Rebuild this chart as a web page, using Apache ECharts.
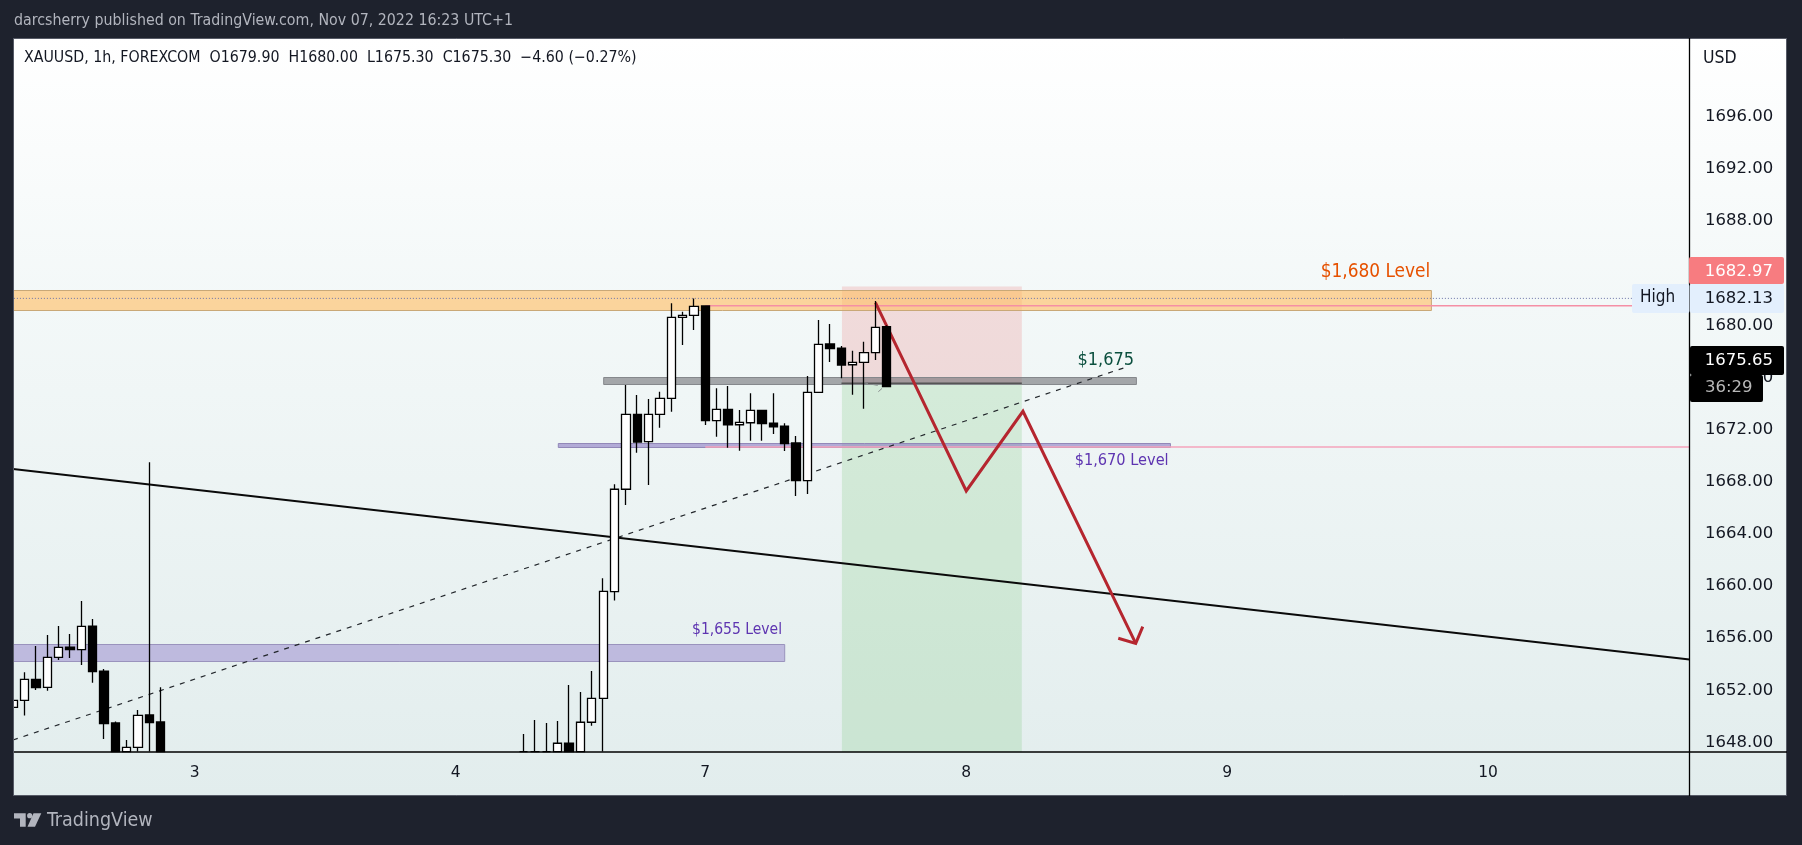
<!DOCTYPE html>
<html><head><meta charset="utf-8">
<style>html,body{margin:0;padding:0;background:#1e222d}#c{width:1802px;height:845px}</style>
<script src="https://cdn.jsdelivr.net/npm/echarts@6/dist/echarts.min.js"></script>
</head><body><div id="c"></div>
<script>
// ---------- chart values ----------
const dayTicks = [15, 38, 60, 83, 106, 129];
const dayLabels = ['3', '4', '7', '8', '9', '10'];
const priceTicks = [1648, 1652, 1656, 1660, 1664, 1668, 1672, 1676, 1680, 1684, 1688, 1692, 1696];
// bar index, open, close, low, high (prices that run below the pane rest on its floor, 1647.3)
const candles = [
 [-1,1650.70,1651.23,1650.50,1651.80],[0,1651.23,1652.84,1650.06,1653.38],[1,1652.84,1652.20,1652.03,1655.40],
 [2,1652.23,1654.53,1651.97,1656.24],[3,1654.53,1655.30,1654.33,1656.93],[4,1655.32,1655.12,1654.48,1656.32],
 [5,1655.12,1656.91,1653.94,1658.85],[6,1656.93,1653.43,1652.59,1657.47],[7,1653.48,1649.44,1648.27,1653.64],
 [8,1649.50,1647.30,1647.30,1649.60],[9,1647.30,1647.63,1647.30,1648.19],[10,1647.63,1650.08,1647.30,1650.49],
 [11,1650.11,1649.52,1647.30,1669.50],[12,1649.57,1647.30,1647.30,1652.23],
 [44,1647.30,1647.30,1647.30,1648.65],[45,1647.30,1647.30,1647.30,1649.73],[46,1647.30,1647.30,1647.30,1649.50],
 [47,1647.30,1647.94,1647.30,1649.65],[48,1647.94,1647.30,1647.30,1652.41],[49,1647.30,1649.55,1647.30,1651.87],
 [50,1649.55,1651.39,1649.29,1653.48],[51,1651.39,1659.59,1647.30,1660.60],[52,1659.57,1667.42,1658.88,1667.80],
 [53,1667.42,1673.17,1666.21,1675.42],[54,1673.17,1671.04,1670.23,1674.65],[55,1671.07,1673.17,1667.75,1674.34],
 [56,1673.17,1674.39,1672.14,1674.90],[57,1674.39,1680.60,1673.37,1681.68],[58,1680.60,1680.76,1678.48,1681.04],
 [59,1680.76,1681.45,1679.63,1682.06],[60,1681.48,1672.68,1672.35,1681.50],[61,1672.68,1673.55,1671.45,1675.16],
 [62,1673.55,1672.37,1670.61,1675.34],[63,1672.37,1672.55,1670.38,1673.50],[64,1672.52,1673.47,1671.15,1674.78],
 [65,1673.47,1672.45,1671.15,1673.50],[66,1672.50,1672.20,1671.66,1674.78],[67,1672.27,1670.92,1670.35,1672.48],
 [68,1670.97,1668.08,1666.90,1671.50],[69,1668.08,1674.85,1667.06,1676.10],[70,1674.85,1678.53,1674.85,1680.40],
 [71,1678.56,1678.20,1677.18,1680.09],[72,1678.25,1676.95,1675.93,1678.41],[73,1676.97,1677.15,1674.67,1678.05],
 [74,1677.15,1677.90,1673.60,1678.74],[75,1677.90,1679.84,1677.33,1681.86],[76,1679.90,1675.30,1675.30,1680.00]
];
// drawings, in chart coordinates: [bar from, bar to, price low, price high]
const zoneOrange = [[-2,124,1681.13,1682.70]];
const zoneGrey = [[51,98,1675.50,1676.00]];
const zonePurpleThin = [[47,101,1670.66,1670.97]];
const zonePurple = [[-2,67,1654.23,1655.55]];
const zoneRisk = [[72,87.9,1675.55,1683.00]];
const zoneReward = [[72,87.9,1640,1675.55]];
// lines: [bar, price]
const trendLine = [[-1.02,1668.97],[146.75,1654.36]];
const dashedLine = [[-1.02,1648.19],[96.93,1676.74]];
const dashedBit1 = [[73.9,1675.6],[75.4,1675.35]];
const dashedBit2 = [[75.25,1674.9],[75.7,1675.25]];
const highDots = [[-2,1682.06],[141.7,1682.06]];
const highLine = [[60,1681.50],[141.7,1681.50]];
const lowLine = [[60,1670.66],[146.75,1670.66]];
const stopEdge = [[72,1675.55],[87.9,1675.55]];
const arrowPath = [[75,1681.73],[83,1667.29],[88,1673.40],[97.94,1655.60]];
const arrowHead = [[96.4,1655.99],[97.94,1655.60],[98.56,1656.88]];
const levelNotes = [[119.07,1684.08,'$1,680 Level'],[62.8,1656.63,'$1,655 Level'],[96.7,1669.59,'$1,670 Level'],[95.3,1677.33,'$1,675']];
const noteColors = ['#e65100','#5e35b1','#5e35b1','#0b4f3e'];
const noteSizes = [18.9,15.5,16.2,18];
const titleText = 'darcsherry published on TradingView.com, Nov 07, 2022 16:23 UTC+1';
const legendText = 'XAUUSD, 1h, FOREXCOM  O1679.90  H1680.00  L1675.30  C1675.30  −4.60 (−0.27%)';

const FONT = '"DejaVu Sans Condensed","DejaVu Sans",sans-serif';
const AXFONT = '"DejaVu Sans",sans-serif';

function zoneSeries(rows, fill, stroke, z){
  return {type:'custom', data:rows, z, clip:true, silent:true, encode:{x:[0,1],y:[2,3]},
    renderItem(p,api){
      const a=api.coord([api.value(0),api.value(3)]), b=api.coord([api.value(1),api.value(2)]);
      const s=p.coordSys, x0=Math.max(a[0],s.x), x1=Math.min(b[0],s.x+s.width), y0=Math.max(a[1],s.y), y1=Math.min(b[1],s.y+s.height);
      return {type:'rect', shape:{x:x0+.5,y:Math.round(y0)+.5,width:x1-x0-.5,height:Math.round(y1-y0)},
        style:{fill,stroke:stroke||null,lineWidth:stroke?1:0}};
    }};
}
function lineSeries(pts, color, width, z, dash){
  return {type:'line', data:pts, z, showSymbol:false, silent:true, clip:true, animation:false,
    lineStyle:{color,width,type:dash||'solid',join:'miter'}, itemStyle:{color}};
}
const notesSeries = {type:'custom', data:levelNotes, z:8, clip:false, silent:true, encode:{x:0,y:1},
  renderItem(p,api){
    const c=api.coord([api.value(0),api.value(1)]);
    return {type:'text', style:{x:c[0],y:c[1],text:levelNotes[p.dataIndex][2],fill:noteColors[p.dataIndex],
      align:'center',verticalAlign:'middle',font:noteSizes[p.dataIndex]+'px '+FONT}};
  }};

const series = [
  zoneSeries(zoneRisk,'rgba(235,130,130,0.25)',null,2),
  zoneSeries(zoneReward,'rgba(120,200,120,0.23)',null,2),
  zoneSeries(zoneOrange,'rgba(255,190,100,0.62)','#c9a877',3),
  zoneSeries(zonePurple,'rgba(140,120,200,0.45)','#9a93bd',3),
  zoneSeries(zoneGrey,'rgba(100,100,105,0.55)','#85888c',3),
  zoneSeries(zonePurpleThin,'rgba(130,110,190,0.55)','#9288b8',3),
  lineSeries(lowLine,'#f4a3bb',1.5,4),
  lineSeries(highLine,'#f58fa5',1.5,4),
  lineSeries(highDots,'#6b74a8',1,4,[1,2]),
  lineSeries(stopEdge,'#555555',1.5,4),
  lineSeries(dashedLine,'#22262b',1.2,5,[5,6]),
  lineSeries(dashedBit1,'#8a9090',1,5,[5,5]),
  lineSeries(dashedBit2,'#8a9090',1,5,[5,5]),
  lineSeries(trendLine,'#0a0a0a',2,5),
  lineSeries(arrowPath,'#b5262f',3,6),
  lineSeries(arrowHead,'#b5262f',3,6),
  notesSeries,
  {type:'candlestick', z:10, barWidth:8.8, silent:true,
   data:candles, encode:{x:0,y:[1,2,3,4]},
   itemStyle:{color:'#ffffff',color0:'#000000',borderColor:'#000000',borderColor0:'#000000',borderWidth:1.3}}
];

const tx=(x,y,text,fill,font,align)=>({type:'text',z:120,silent:true,style:{x,y,text,fill,font,align:align||'left',verticalAlign:'middle'}});
const rc=(x,y,w,h,fill,r)=>({type:'rect',z:110,silent:true,shape:{x,y,width:w,height:h,r:r||0},style:{fill}});
const ln=(x1,y1,x2,y2)=>({type:'line',z:15,silent:true,shape:{x1,y1,x2,y2},style:{stroke:'#000',lineWidth:1.3}});

const graphics = [
  {type:'rect',z:-10,silent:true,shape:{x:13.5,y:38.5,width:1773,height:757},
   style:{stroke:'#565a66',lineWidth:1,fill:{type:'linear',x:0,y:0,x2:0,y2:1,colorStops:[{offset:0,color:'#ffffff'},{offset:.35,color:'#f3f8f8'},{offset:1,color:'#e2eded'}]}}},
  // left margin of the pane, covering what overhangs the plot
  {type:'rect',z:16,silent:true,shape:{x:0,y:38,width:13,height:758},style:{fill:'#1e222d'}},
  {type:'line',z:16,silent:true,shape:{x1:13.5,y1:38,x2:13.5,y2:796},style:{stroke:'#565a66',lineWidth:1}},
  ln(1689.5,38,1689.5,796), ln(13,752,1787,752),
  tx(14,21,titleText,'#b2b5be','15.8px '+FONT),
  tx(24,58,legendText,'#131722','15.8px '+FONT),
  tx(1703,58,'USD','#131722','17.5px '+FONT),
  rc(1689,257,95,27,'#f77c80',2),
  tx(1773,272,'1682.97','#ffffff','16.5px '+AXFONT,'right'),
  rc(1632,284,57.5,29,'#e3effd',2), rc(1690,284,94,29,'#e3effd',2),
  tx(1640,298,'High','#131722','17px '+FONT),
  tx(1773,299,'1682.13','#131722','16.5px '+AXFONT,'right'),
  rc(1690,375,73,27,'#000000',2),
  rc(1690,346,94,29,'#000000',2),
  tx(1773,361,'1675.65','#ffffff','16.5px '+AXFONT,'right'),
  tx(1705,388,'36:29','#b8b8b8','16.5px '+AXFONT),
  // TradingView mark
  {type:'polygon',z:120,silent:true,shape:{points:[[14,813.3],[25.7,813.3],[25.7,826.7],[20,826.7],[20,818.5],[14,818.5]]},style:{fill:'#b2b5be'}},
  {type:'circle',z:120,silent:true,shape:{cx:29.7,cy:815.7,r:2.6},style:{fill:'#b2b5be'}},
  {type:'polygon',z:120,silent:true,shape:{points:[[33.5,813.3],[41.3,813.3],[35,826.7],[27.5,826.7]]},style:{fill:'#b2b5be'}},
  tx(47,821,'TradingView','#b2b5be','19.5px '+FONT)
];

const chart = echarts.init(document.getElementById('c'));
chart.setOption({
  animation:false, backgroundColor:'#1e222d',
  grid:{left:13,right:112.5,top:38,bottom:93,containLabel:false},
  xAxis:{type:'value',min:-1.02,max:146.75,splitLine:{show:false},axisTick:{show:false},
    axisLine:{show:false},
    axisLabel:{customValues:dayTicks,color:'#131722',fontFamily:'"DejaVu Sans",sans-serif',fontSize:15.5,margin:13,
      formatter:v=>dayLabels[dayTicks.indexOf(v)]}},
  yAxis:{type:'value',position:'right',min:1647.27,max:1702.03,scale:true,splitLine:{show:false},axisTick:{show:false},
    axisLine:{show:false},
    axisLabel:{customValues:priceTicks,color:'#131722',fontFamily:'"DejaVu Sans",sans-serif',fontSize:16.5,margin:15.5,padding:[2,0,0,0],
      formatter:v=>v.toFixed(2)}},
  series, graphic:{elements:graphics}
});
</script></body></html>
